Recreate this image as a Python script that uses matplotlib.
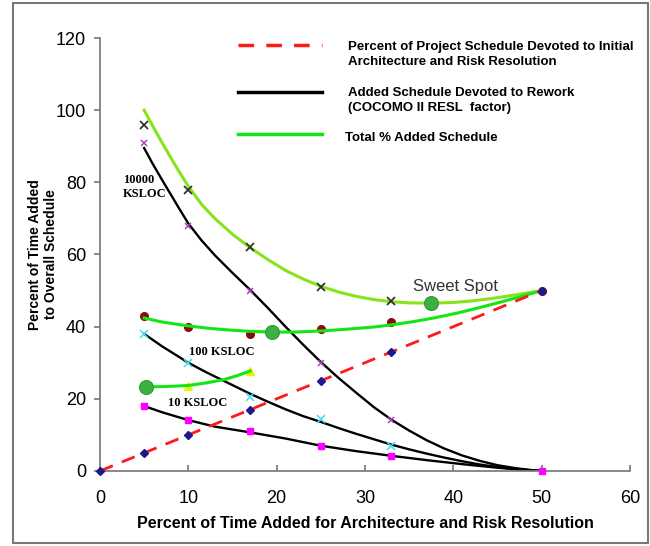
import matplotlib
matplotlib.use("Agg")
import matplotlib.pyplot as plt
from matplotlib.lines import Line2D
from matplotlib.patches import Rectangle

plt.rcParams['font.family'] = ['Liberation Sans', 'DejaVu Sans']

# ---- data ----
# architecture / risk resolution time (red dashed line)
arch_x = [0, 5, 10, 17, 25, 33, 50]
arch_y = [0, 5, 10, 17, 25, 33, 50]

# rework curves (black), one per size
rw10000_x = [5, 6, 7, 8, 9, 10, 11.5, 13, 15, 17, 19, 21, 23, 25, 27, 29, 31, 33,
             35, 37, 39, 41, 43, 45, 47, 49, 50]
rw10000_y = [89.5, 85, 80.8, 76.7, 72.6, 68.6, 63.9, 59.8, 54.9, 50.2, 45.2, 40, 35,
             30.2, 25.8, 21.7, 17.7, 14.2, 11.2, 8.5, 6.2, 4.3, 2.8, 1.6, 0.8, 0.2, 0]
rw100_x = [5, 7, 10, 12, 14, 17, 19, 21, 23, 25, 27, 29, 31, 33, 35, 37, 39, 41,
           43, 45, 47, 50]
rw100_y = [38, 34.6, 30, 27.4, 25, 21.4, 19.2, 17.1, 15.2, 13.6, 11.9, 10.3, 8.8,
           7.3, 6, 4.8, 3.7, 2.7, 1.8, 1.1, 0.5, 0]
rw10_x = [5, 7, 10, 13, 17, 21, 25, 29, 33, 37, 41, 45, 48, 50]
rw10_y = [18, 16.3, 14.1, 12.3, 10.7, 9, 7, 5.5, 4.2, 3, 1.9, 0.9, 0.3, 0]

# total added schedule curves (green)
tot10000_x = [5, 6, 7, 8, 9, 10, 11.5, 13, 15, 17, 19, 21, 23, 25, 27, 29, 31, 33,
              35, 37.5, 40, 42, 44, 46, 48, 50]
tot10000_y = [100, 95.5, 91.1, 86.9, 82.8, 78.9, 73.9, 70, 65.6, 61.9, 58.6, 55.6, 53.2,
              51.2, 49.6, 48.4, 47.5, 46.9, 46.6, 46.5, 46.7, 47.1, 47.7, 48.4, 49.2, 50]
tot100_x = [5, 7, 10, 12.5, 15, 17, 19.5, 22, 25, 28, 31, 33, 35.5, 38, 40.5, 43,
            45.5, 48, 50]
tot100_y = [42.4, 41.3, 40.2, 39.5, 39, 38.7, 38.5, 38.5, 38.8, 39.3, 39.9, 40.5,
            41.4, 42.5, 43.8, 45.3, 46.9, 48.6, 50]
tot10_x = [5, 7.5, 10, 12, 14, 15.5, 17]
tot10_y = [23.3, 23.4, 23.7, 24.4, 25.3, 26.4, 27.7]

# plotted points
pts_x = [5, 10, 17, 25, 33]
tot10000_pts = [96, 78, 62, 51, 47]
rw10000_pts = [91, 68, 50, 30, 14]
rw100_pts = [38, 30, 20.5, 14.4, 6.9]
tot100_pts_x = [5, 10, 17, 25, 33, 50]
tot100_pts = [43, 40, 38, 39.4, 41.3, 50]
rw10_pts_x = [5, 10, 17, 25, 33, 50]
rw10_pts = [18, 14, 11, 7, 4.2, 0]
tot10_pts_x = [10, 17]
tot10_pts = [23.5, 27.7]

# sweet spots
sweet_x = [37.5, 19.5, 5.2]
sweet_y = [46.6, 38.5, 23.3]

fig = plt.figure(figsize=(6.5, 5.46), dpi=100)
ax = fig.add_axes([0.1538, 0.1374, 0.8154, 0.793])

red = '#ff1a1a'
green_top = '#86e31c'
green = '#14e614'

ax.plot(arch_x, arch_y, color=red, lw=2, dashes=(5, 3.5), zorder=3)
ax.plot(arch_x, arch_y, ls='none', marker='D', ms=4, color='#1a1a8c', zorder=4, clip_on=False)

for xs, ys in [(rw10000_x, rw10000_y), (rw100_x, rw100_y), (rw10_x, rw10_y)]:
    ax.plot(xs, ys, color='black', lw=1.7, zorder=2)

ax.plot(tot10000_x, tot10000_y, color=green_top, lw=2.2, zorder=2)
ax.plot(tot100_x, tot100_y, color=green, lw=2.2, zorder=2)
ax.plot(tot10_x, tot10_y, color=green, lw=2.2, zorder=2)

ax.plot(pts_x, tot10000_pts, ls='none', marker='x', ms=5.5, mew=1.3, color='#333333', zorder=4)
ax.plot(pts_x, rw10000_pts, ls='none', marker='x', ms=4.5, mew=1.1, color='#b040c0', zorder=4)
ax.plot(pts_x, rw100_pts, ls='none', marker='x', ms=5.5, mew=1.1, color='#40e0f0', zorder=4)
ax.plot(tot100_pts_x, tot100_pts, ls='none', marker='o', ms=5.5, color='#8b0a0a', zorder=1)
ax.plot(rw10_pts_x, rw10_pts, ls='none', marker='s', ms=5, color='#ff00ff', zorder=4, clip_on=False)
ax.plot(tot10_pts_x, tot10_pts, ls='none', marker='^', ms=6, color='#f0f000', zorder=1)

ax.plot(sweet_x, sweet_y, ls='none', marker='o', ms=10, color='#3cb043',
        mec='#2e9a35', mew=0.8, zorder=5)

ax.text(40.2, 51, 'Sweet Spot', fontsize=12, color='#333333', ha='center', va='center')
ax.text(2.6, 78.7, '10000\nKSLOC', family='Liberation Serif', fontweight='bold',
        fontsize=9, ha='left', va='center', linespacing=1.25)
ax.text(13.8, 33, '100 KSLOC', family='Liberation Serif', fontweight='bold',
        fontsize=9, ha='center', va='center')
ax.text(11, 18.8, '10 KSLOC', family='Liberation Serif', fontweight='bold',
        fontsize=9, ha='center', va='center')

ax.set_xlim(0, 60)
ax.set_ylim(0, 120)
ax.set_xticks(range(0, 61, 10))
ax.set_yticks(range(0, 121, 20))
for s in ['top', 'right']:
    ax.spines[s].set_visible(False)
for s in ['left', 'bottom']:
    ax.spines[s].set_color('#7f7f7f')
    ax.spines[s].set_linewidth(1.3)
ax.tick_params(axis='x', direction='in', length=4, width=1.3, color='#7f7f7f',
               labelsize=13, pad=14)
ax.tick_params(axis='y', direction='out', length=4, width=1.3, color='#7f7f7f',
               labelsize=13, pad=6)

ax.set_xlabel('Percent of Time Added for Architecture and Risk Resolution',
              fontsize=11.5, fontweight='bold', labelpad=6)
ax.set_ylabel('Percent of Time Added\nto Overall Schedule', fontsize=10,
              fontweight='bold', linespacing=1.1)
ax.yaxis.set_label_coords(-0.08, 0.5)

# legend drawn at the top
fig.add_artist(Line2D([0.366, 0.495], [0.9176, 0.9176], color=red, lw=2.5,
                      dashes=(4.5, 3.5), transform=fig.transFigure))
fig.add_artist(Line2D([0.366, 0.495], [0.8315, 0.8315], color='black', lw=2.5,
                      transform=fig.transFigure))
fig.add_artist(Line2D([0.366, 0.495], [0.7546, 0.7546], color=green, lw=2.5,
                      transform=fig.transFigure))
fig.text(0.535, 0.900, 'Percent of Project Schedule Devoted to Initial\nArchitecture and Risk Resolution',
         fontsize=9.5, fontweight='bold', va='center', linespacing=1.3)
fig.text(0.535, 0.816, 'Added Schedule Devoted to Rework\n(COCOMO II RESL  factor)',
         fontsize=9.5, fontweight='bold', va='center', linespacing=1.3)
fig.text(0.531, 0.747, 'Total % Added Schedule', fontsize=9.5, fontweight='bold', va='center')

# outer frame
fig.add_artist(Rectangle((13 / 650, 3 / 546), 635 / 650, 540 / 546, fill=False,
                         edgecolor='#777777', lw=1.5, transform=fig.transFigure))

fig.savefig('out.png', dpi=100)
